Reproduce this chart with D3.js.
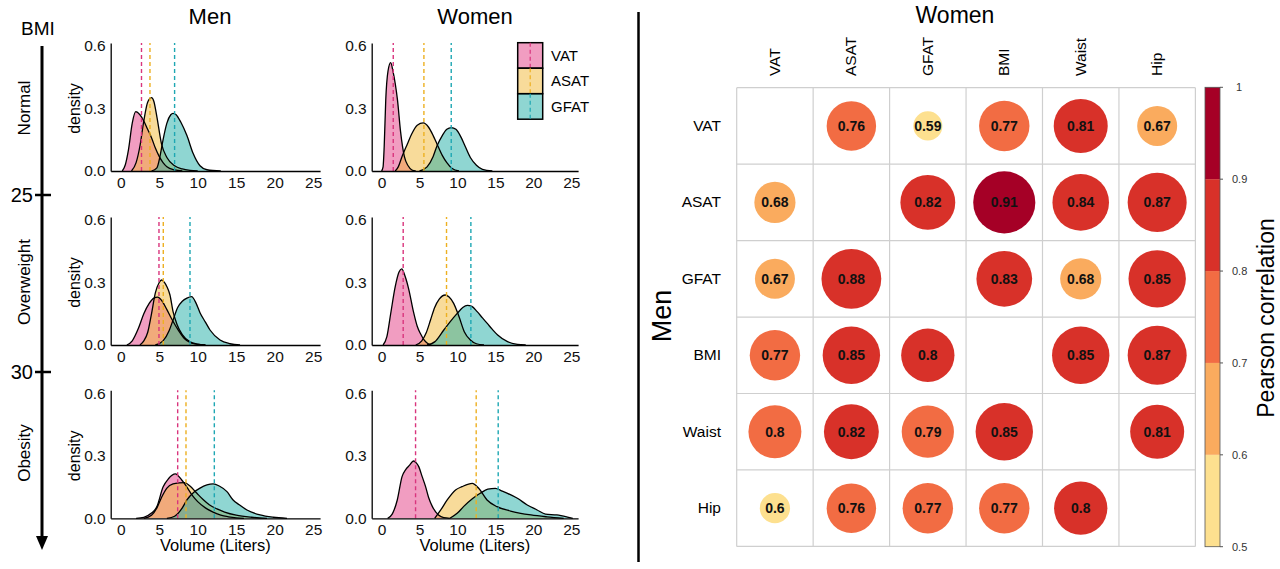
<!DOCTYPE html>
<html>
<head>
<meta charset="utf-8">
<script src="https://cdn.jsdelivr.net/npm/d3@7"></script>
<style>
  html, body { margin: 0; padding: 0; background: #fff; }
  svg { display: block; font-family: "Liberation Sans", Arial, Helvetica, sans-serif; }
</style>
</head>
<body>
<svg id="chart" width="1280" height="569"></svg>
<script>
// ---------------- DATA ----------------
const seriesNames = ["VAT", "ASAT", "GFAT"];
const sexes = ["Men", "Women"];
const bmiGroups = ["Normal", "Overweight", "Obesity"];
const bmiCuts = ["25", "30"];
const xTicks = [0, 5, 10, 15, 20, 25];
const yTicks = [0.0, 0.3, 0.6];

// density curves [volume (L), density]
const menNormalVAT  = [[0.2,0],[0.6,0.03],[1.0,0.1],[1.5,0.23],[1.95,0.285],[2.5,0.27],[3.0,0.24],[3.5,0.2],[4.0,0.16],[4.5,0.11],[5.0,0.07],[5.5,0.04],[6.0,0.02],[7.0,0.005],[8.0,0]];
const menNormalASAT = [[1.4,0],[2.0,0.04],[2.5,0.12],[3.0,0.24],[3.5,0.33],[4.0,0.352],[4.3,0.335],[4.7,0.26],[5.3,0.13],[6.0,0.065],[7.0,0.025],[8.0,0.01],[9.0,0.003],[10,0]];
const menNormalGFAT = [[4.0,0],[4.7,0.015],[5.1,0.07],[5.5,0.15],[6.0,0.23],[6.5,0.27],[6.8,0.277],[7.2,0.27],[7.8,0.235],[8.6,0.17],[9.4,0.085],[10.3,0.025],[11.2,0.006],[13.0,0]];

const womenNormalVAT  = [[0,0],[0.2,0.02],[0.35,0.12],[0.55,0.34],[0.85,0.48],[1.2,0.52],[1.5,0.48],[1.8,0.42],[2.1,0.34],[2.5,0.19],[3.0,0.07],[3.5,0.025],[4.0,0.005],[4.5,0]];
const womenNormalASAT = [[1.8,0],[2.2,0.02],[2.7,0.07],[3.4,0.13],[4.0,0.18],[4.7,0.22],[5.5,0.231],[6.2,0.21],[6.8,0.17],[7.3,0.13],[8.0,0.075],[8.6,0.04],[9.3,0.012],[10.2,0]];
const womenNormalGFAT = [[5.0,0],[6.0,0.02],[6.8,0.07],[7.3,0.12],[8.0,0.17],[8.6,0.2],[9.2,0.208],[9.8,0.2],[10.5,0.16],[11.0,0.12],[11.7,0.065],[12.5,0.028],[13.3,0.008],[14.6,0]];

const menOverVAT  = [[0.8,0],[1.5,0.02],[2.3,0.08],[3.0,0.15],[3.7,0.2],[4.3,0.225],[4.8,0.23],[5.3,0.215],[6.0,0.17],[6.7,0.12],[7.5,0.07],[8.3,0.03],[9.0,0.012],[10.0,0.003],[11.0,0]];
const menOverASAT = [[2.5,0],[3.0,0.02],[3.5,0.06],[4.0,0.15],[4.5,0.25],[5.0,0.3],[5.3,0.312],[5.7,0.3],[6.0,0.28],[6.4,0.24],[6.8,0.16],[7.3,0.1],[8.0,0.05],[9.0,0.015],[10.0,0.004],[11.0,0]];
const menOverGFAT = [[4.5,0],[5.5,0.02],[6.3,0.07],[6.8,0.12],[7.4,0.18],[8.0,0.21],[8.6,0.225],[9.2,0.232],[9.8,0.2],[10.3,0.155],[11.0,0.11],[11.6,0.072],[12.9,0.024],[14.2,0.006],[15.5,0]];

const womenOverVAT  = [[0.2,0],[0.7,0.04],[1.2,0.15],[1.8,0.28],[2.3,0.35],[2.65,0.365],[3.1,0.33],[3.6,0.265],[4.2,0.16],[4.7,0.09],[5.1,0.056],[5.6,0.025],[6.0,0.01],[6.5,0]];
const womenOverASAT = [[4.5,0],[5.3,0.02],[5.9,0.06],[6.45,0.12],[7.0,0.18],[7.6,0.22],[8.4,0.24],[8.9,0.23],[9.5,0.2],[10.2,0.137],[10.9,0.064],[11.7,0.024],[12.5,0.006],[13.5,0]];
const womenOverGFAT = [[6.0,0],[7.0,0.015],[8.2,0.072],[9.0,0.11],[10.0,0.153],[10.7,0.18],[11.3,0.19],[11.9,0.185],[12.6,0.16],[13.3,0.13],[13.9,0.105],[14.6,0.075],[15.3,0.048],[16.6,0.016],[17.9,0.003],[19.0,0]];

const menObeseVAT  = [[2.0,0],[3.0,0.005],[4.0,0.025],[4.7,0.056],[5.5,0.15],[6.2,0.19],[7.1,0.213],[7.9,0.185],[8.6,0.15],[9.3,0.11],[10.0,0.08],[11.0,0.05],[12.0,0.03],[13.0,0.015],[14.0,0.007],[15.0,0.002],[16.0,0]];
const menObeseASAT = [[3.0,0],[4.0,0.015],[4.7,0.05],[5.3,0.1],[6.0,0.145],[6.8,0.165],[7.6,0.17],[8.3,0.171],[9.0,0.155],[9.9,0.12],[10.7,0.09],[11.5,0.065],[12.5,0.045],[13.5,0.03],[15.0,0.015],[17.0,0.005],[19.0,0]];
const menObeseGFAT = [[6.0,0],[7.0,0.01],[8.0,0.05],[8.6,0.088],[9.5,0.125],[10.3,0.145],[11.2,0.16],[12.0,0.165],[12.8,0.155],[13.8,0.128],[14.6,0.088],[15.4,0.065],[16.4,0.04],[18.1,0.016],[19.8,0.005],[21.6,0]];

const womenObeseVAT  = [[0.8,0],[1.4,0.02],[2.07,0.088],[2.7,0.2],[3.2,0.235],[3.7,0.255],[4.2,0.275],[4.6,0.265],[4.9,0.248],[5.35,0.2],[5.8,0.152],[6.2,0.1],[6.7,0.056],[7.5,0.016],[8.2,0.003],[9.0,0]];
const womenObeseASAT = [[7.0,0],[7.8,0.04],[8.65,0.088],[9.75,0.136],[10.6,0.152],[11.95,0.168],[12.8,0.144],[13.9,0.088],[15.2,0.056],[17.0,0.035],[19.7,0.016],[21.8,0.007],[24.0,0]];
const womenObeseGFAT = [[9.0,0],[10.0,0.025],[10.8,0.056],[12.0,0.095],[13.0,0.12],[14.0,0.14],[15.0,0.144],[15.8,0.132],[16.6,0.12],[17.9,0.096],[19.2,0.064],[20.5,0.04],[21.6,0.02],[23.1,0.016],[24.5,0.006],[25.2,0]];

// mean volumes (dashed lines) per panel: VAT, ASAT, GFAT
const menNormalMeans   = [2.7, 3.8, 7.0];
const womenNormalMeans = [1.54, 5.58, 9.18];
const menOverMeans     = [4.97, 5.53, 9.0];
const womenOverMeans   = [2.85, 8.56, 11.77];
const menObeseMeans    = [7.4, 8.48, 12.16];
const womenObeseMeans  = [4.48, 12.47, 15.37];

// correlation matrix: upper triangle = Women, lower triangle = Men
// (values estimated from the displayed 2-decimal labels and their colour bins)
const corrLabels = ["VAT", "ASAT", "GFAT", "BMI", "Waist", "Hip"];
const corrVAT   = [null, 0.76, 0.59, 0.77, 0.81, 0.67];
const corrASAT  = [0.68, null, 0.82, 0.91, 0.84, 0.87];
const corrGFAT  = [0.67, 0.88, null, 0.83, 0.68, 0.85];
const corrBMI   = [0.77, 0.85, 0.802, null, 0.85, 0.87];
const corrWaist = [0.798, 0.82, 0.79, 0.85, null, 0.81];
const corrHip   = [0.597, 0.76, 0.77, 0.77, 0.802, null];

const colorBreaks = [0.5, 0.6, 0.7, 0.8, 0.9, 1];
const colorTickLabels = ["0.5", "0.6", "0.7", "0.8", "0.9", "1"];
const binColors = ["#FDE08F", "#FAAB5E", "#F26C43", "#D83129", "#A50026"];

// ---------------- STYLE / LAYOUT ----------------
const seriesFill = ["#E33B83", "#F1B735", "#1FADA5"];
const seriesLine = ["#D9357D", "#EDB021", "#1EA7B3"];

const svg = d3.select("#chart");

const panels = [
  [{ data: [menNormalVAT, menNormalASAT, menNormalGFAT], means: menNormalMeans },
   { data: [womenNormalVAT, womenNormalASAT, womenNormalGFAT], means: womenNormalMeans }],
  [{ data: [menOverVAT, menOverASAT, menOverGFAT], means: menOverMeans },
   { data: [womenOverVAT, womenOverASAT, womenOverGFAT], means: womenOverMeans }],
  [{ data: [menObeseVAT, menObeseASAT, menObeseGFAT], means: menObeseMeans },
   { data: [womenObeseVAT, womenObeseASAT, womenObeseGFAT], means: womenObeseMeans }]
];

const rowBase = [171, 345, 518.3];
const colLeft = [110.7, 371.7];
const colWidth = [209.4, 206.4];
const yDomainTop = 0.615;
const yPixTop = 128.1;

panels.forEach((row, ri) => {
  row.forEach((p, ci) => {
    const x = d3.scaleLinear().domain([-1.3, 25.9]).range([colLeft[ci], colLeft[ci] + colWidth[ci]]);
    const y = d3.scaleLinear().domain([0, yDomainTop]).range([rowBase[ri], rowBase[ri] - yPixTop]);
    const g = svg.append("g");

    const area = d3.area().x(d => x(d[0])).y0(y(0)).y1(d => y(d[1])).curve(d3.curveMonotoneX);
    const line = d3.line().x(d => x(d[0])).y(d => y(d[1])).curve(d3.curveMonotoneX);

    p.data.forEach((s, si) => {
      g.append("path").attr("d", area(s)).attr("fill", seriesFill[si]).attr("fill-opacity", 0.5);
    });
    p.data.forEach((s) => {
      g.append("path").attr("d", line(s)).attr("fill", "none").attr("stroke", "#000").attr("stroke-width", 1.3);
    });
    p.means.forEach((m, si) => {
      g.append("line")
        .attr("x1", x(m)).attr("x2", x(m))
        .attr("y1", y(0)).attr("y2", y(yDomainTop))
        .attr("stroke", seriesLine[si]).attr("stroke-width", 1.4)
        .attr("stroke-dasharray", "4,3");
    });

    const xa = g.append("g").attr("transform", `translate(0,${y(0)})`)
      .call(d3.axisBottom(x).tickValues(xTicks).tickSize(0).tickPadding(6).tickFormat(d3.format("d")));
    const ya = g.append("g").attr("transform", `translate(${x.range()[0]},0)`)
      .call(d3.axisLeft(y).tickValues(yTicks).tickSize(0).tickPadding(5).tickFormat(d3.format(".1f")));
    [xa, ya].forEach(a => {
      a.select(".domain").attr("stroke", "#000").attr("stroke-width", 1.3);
      a.selectAll("text").attr("font-size", 15.5).attr("fill", "#111").attr("font-family", "Liberation Sans, Arial, sans-serif");
    });

    if (ci === 0) {
      g.append("text").attr("transform", `translate(80,${y(0.3)}) rotate(-90)`)
        .attr("text-anchor", "middle").attr("font-size", 16).text("density");
    }
    if (ri === 2) {
      g.append("text").attr("x", (x.range()[0] + x.range()[1]) / 2).attr("y", 551)
        .attr("text-anchor", "middle").attr("font-size", 16.5).text("Volume (Liters)");
    }
  });
});

// column titles
svg.append("text").attr("x", 210).attr("y", 24).attr("text-anchor", "middle").attr("font-size", 22).text(sexes[0]);
svg.append("text").attr("x", 475).attr("y", 24).attr("text-anchor", "middle").attr("font-size", 22).text(sexes[1]);

// BMI arrow
svg.append("text").attr("x", 38).attr("y", 35).attr("text-anchor", "middle").attr("font-size", 19).text("BMI");
svg.append("line").attr("x1", 42).attr("x2", 42).attr("y1", 46).attr("y2", 538).attr("stroke", "#000").attr("stroke-width", 3);
svg.append("path").attr("d", "M36,536 L48,536 L42,550 Z").attr("fill", "#000");
[195, 372].forEach((yy, i) => {
  svg.append("line").attr("x1", 35).attr("x2", 51).attr("y1", yy).attr("y2", yy).attr("stroke", "#000").attr("stroke-width", 2.5);
  svg.append("text").attr("x", 33).attr("y", yy + 7).attr("text-anchor", "end").attr("font-size", 20).text(bmiCuts[i]);
});
[108, 282, 453].forEach((yy, i) => {
  svg.append("text").attr("transform", `translate(30,${yy}) rotate(-90)`)
    .attr("text-anchor", "middle").attr("font-size", 17).text(bmiGroups[i]);
});

// legend
const lg = svg.append("g");
seriesNames.forEach((n, i) => {
  const y0 = 42.7 + i * 25.5;
  lg.append("rect").attr("x", 517.7).attr("y", y0).attr("width", 25).attr("height", 25.5)
    .attr("fill", seriesFill[i]).attr("fill-opacity", 0.5).attr("stroke", "#000").attr("stroke-width", 1.5);
  lg.append("line").attr("x1", 530.2).attr("x2", 530.2).attr("y1", y0).attr("y2", y0 + 25.5)
    .attr("stroke", seriesLine[i]).attr("stroke-width", 1.2).attr("stroke-dasharray", "4,3");
  lg.append("text").attr("x", 551).attr("y", y0 + 18).attr("font-size", 15).text(n);
});

// divider
svg.append("line").attr("x1", 638.5).attr("x2", 638.5).attr("y1", 12).attr("y2", 562).attr("stroke", "#000").attr("stroke-width", 2.5);

// ---------------- CORRELATION MATRIX ----------------
const corrRows = [corrVAT, corrASAT, corrGFAT, corrBMI, corrWaist, corrHip];
const gridLeft = 736.7, gridTop = 87.7, gridSize = 458.7;
const cx = d3.scaleBand().domain(corrLabels).range([gridLeft, gridLeft + gridSize]);
const cy = d3.scaleBand().domain(corrLabels).range([gridTop, gridTop + gridSize]);
const colorScale = d3.scaleThreshold().domain(colorBreaks.slice(1, -1)).range(binColors);
const rScale = d3.scaleSqrt().domain([0, 0.5]).range([0, 34.3]);
const fmt = d3.format(".2~f");

const mg = svg.append("g");
for (let i = 0; i <= corrLabels.length; i++) {
  const v = gridLeft + i * cx.bandwidth();
  mg.append("line").attr("x1", v).attr("x2", v).attr("y1", gridTop).attr("y2", gridTop + gridSize)
    .attr("stroke", "#CFCFCF").attr("stroke-width", 1.2);
  const h = gridTop + i * cy.bandwidth();
  mg.append("line").attr("x1", gridLeft).attr("x2", gridLeft + gridSize).attr("y1", h).attr("y2", h)
    .attr("stroke", "#CFCFCF").attr("stroke-width", 1.2);
}
const cells = [];
corrRows.forEach((row, ri) => row.forEach((v, ci) => { if (v !== null) cells.push({ r: corrLabels[ri], c: corrLabels[ci], v }); }));
mg.selectAll("circle.cell").data(cells).enter().append("circle")
  .attr("cx", d => cx(d.c) + cx.bandwidth() / 2)
  .attr("cy", d => cy(d.r) + cy.bandwidth() / 2)
  .attr("r", d => rScale(d.v - 0.5))
  .attr("fill", d => colorScale(d.v));
mg.selectAll("text.val").data(cells).enter().append("text")
  .attr("x", d => cx(d.c) + cx.bandwidth() / 2)
  .attr("y", d => cy(d.r) + cy.bandwidth() / 2 + 5)
  .attr("text-anchor", "middle").attr("font-size", 14).attr("font-weight", "bold").attr("fill", "#111")
  .text(d => fmt(d.v));

corrLabels.forEach(l => {
  mg.append("text").attr("x", 721).attr("y", cy(l) + cy.bandwidth() / 2 + 5)
    .attr("text-anchor", "end").attr("font-size", 15.5).text(l);
  mg.append("text").attr("transform", `translate(${cx(l) + cx.bandwidth() / 2 + 5},76) rotate(-90)`)
    .attr("text-anchor", "start").attr("font-size", 15.5).text(l);
});
svg.append("text").attr("x", 955).attr("y", 23).attr("text-anchor", "middle").attr("font-size", 23).text(sexes[1]);
svg.append("text").attr("transform", "translate(671,316) rotate(-90)").attr("text-anchor", "middle").attr("font-size", 27).text(sexes[0]);

// colour bar
const cbY = d3.scaleLinear().domain([0.5, 1]).range([546.7, 87.3]);
const cb = svg.append("g");
binColors.forEach((c, i) => {
  cb.append("rect").attr("x", 1205).attr("width", 15)
    .attr("y", cbY(colorBreaks[i + 1])).attr("height", cbY(colorBreaks[i]) - cbY(colorBreaks[i + 1]))
    .attr("fill", c);
});
cb.append("rect").attr("x", 1205).attr("width", 15).attr("y", cbY(1)).attr("height", cbY(0.5) - cbY(1))
  .attr("fill", "none").attr("stroke", "#555").attr("stroke-width", 0.8);
colorBreaks.forEach((b, i) => {
  cb.append("line").attr("x1", 1220).attr("x2", 1223).attr("y1", cbY(b)).attr("y2", cbY(b)).attr("stroke", "#555");
  cb.append("text").attr("x", i === 5 ? 1236 : 1232).attr("y", cbY(b) + 4).attr("font-size", 11).attr("fill", "#333").text(colorTickLabels[i]);
});
svg.append("text").attr("transform", "translate(1274,318) rotate(-90)").attr("text-anchor", "middle").attr("font-size", 23).text("Pearson correlation");
</script>
</body>
</html>
